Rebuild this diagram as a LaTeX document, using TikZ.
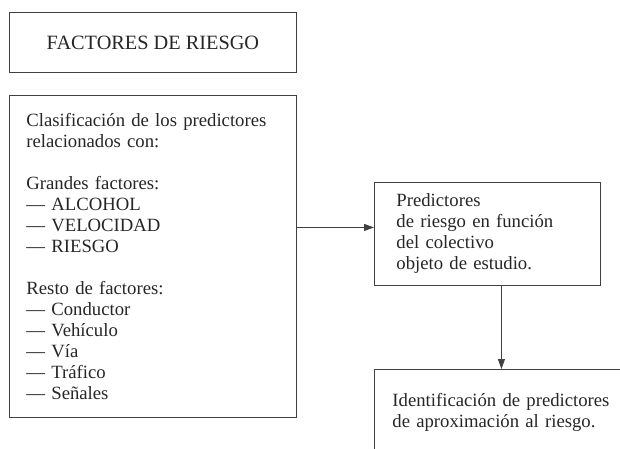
\documentclass[tikz,border=0pt]{standalone}
\usepackage{fontspec}
\setmainfont{Liberation Serif}
\usetikzlibrary{arrows.meta}
\begin{document}
\begin{tikzpicture}[x=1pt,y=1pt,
  caja/.style={draw=black!75, line width=0.9pt, rectangle, inner ysep=0pt,
    font=\fontsize{18.7}{21}\selectfont, text=black!85,
    execute at begin node={\hyphenpenalty=10000 },
    align=left, anchor=north west},
  flecha/.style={draw=black!75, line width=0.9pt, -{Triangle[length=10pt,width=7pt]}}]
  \useasboundingbox (0,0) rectangle (620,448);
  \clip (0,0) rectangle (620,448);
  \node[caja, align=center, font=\fontsize{20.3}{21}\selectfont,
    minimum width=287, minimum height=60] (factores) at (9,436)
    {FACTORES DE RIESGO};
  \node[caja, text width=253, inner xsep=17, minimum height=322] (clasif) at (9,353)
    {Clasificación de los predictores\\relacionados con:\\[21pt]
     Grandes factores:\\--- ALCOHOL\\--- VELOCIDAD\\--- RIESGO\\[21pt]
     Resto de factores:\\--- Conductor\\--- Vehículo\\--- Vía\\--- Tráfico\\--- Señales};
  \node[caja, text width=182, inner xsep=22, minimum height=103] (predict) at (374,266)
    {Predictores\\de riesgo en función\\del colectivo\\objeto de estudio.};
  \node[caja, text width=230, inner xsep=18, minimum height=86] (ident) at (374,79)
    {Identificación de predictores\\de aproximación al riesgo.};
  \coordinate (entrada) at ([yshift=6.5]predict.west);
  \coordinate (salida) at ([xshift=14]predict.south);
  \draw[flecha] (clasif.east |- entrada) -- (entrada);
  \draw[flecha] (salida) -- (salida |- ident.north);
\end{tikzpicture}
\end{document}
